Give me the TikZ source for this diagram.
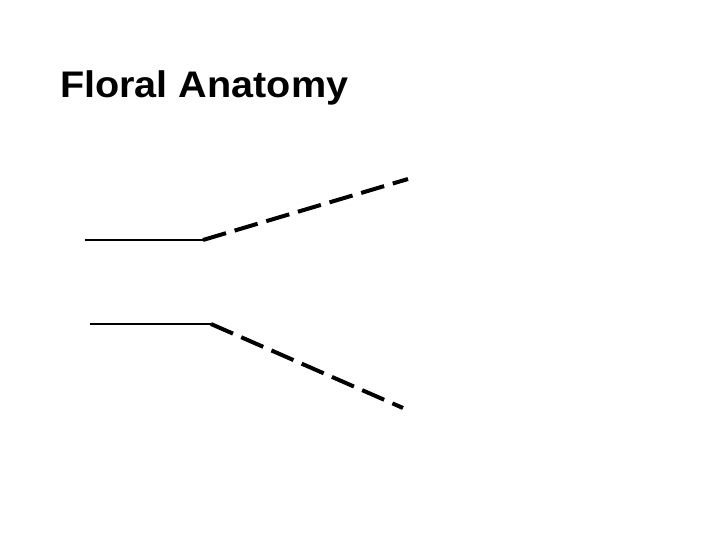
\documentclass[tikz,border=0pt]{standalone}
\usepackage{fontspec}
\setmainfont{Liberation Sans}
\usepackage{graphicx}
\begin{document}
\begin{tikzpicture}[x=1pt,y=-1pt,
  solidseg/.style={line width=2.2pt},
  dashseg/.style={line width=4pt, dash pattern=on 24pt off 9pt}]
\useasboundingbox (0,0) rectangle (720,540);
\node[anchor=base west, inner sep=0pt] (title) at (60,98)
  {\scalebox{1.07}[1]{\fontsize{37}{42}\selectfont\bfseries Floral Anatomy}};
\coordinate (a1) at (85,240);
\coordinate (a2) at (203,240);
\coordinate (a3) at (408,179);
\coordinate (b1) at (90,324);
\coordinate (b2) at (211,324);
\coordinate (b3) at (403,408);
\draw[solidseg] (a1) -- (a2);
\draw[dashseg] (a2) -- (a3);
\draw[solidseg] (b1) -- (b2);
\draw[dashseg] (b2) -- (b3);
\end{tikzpicture}
\end{document}
